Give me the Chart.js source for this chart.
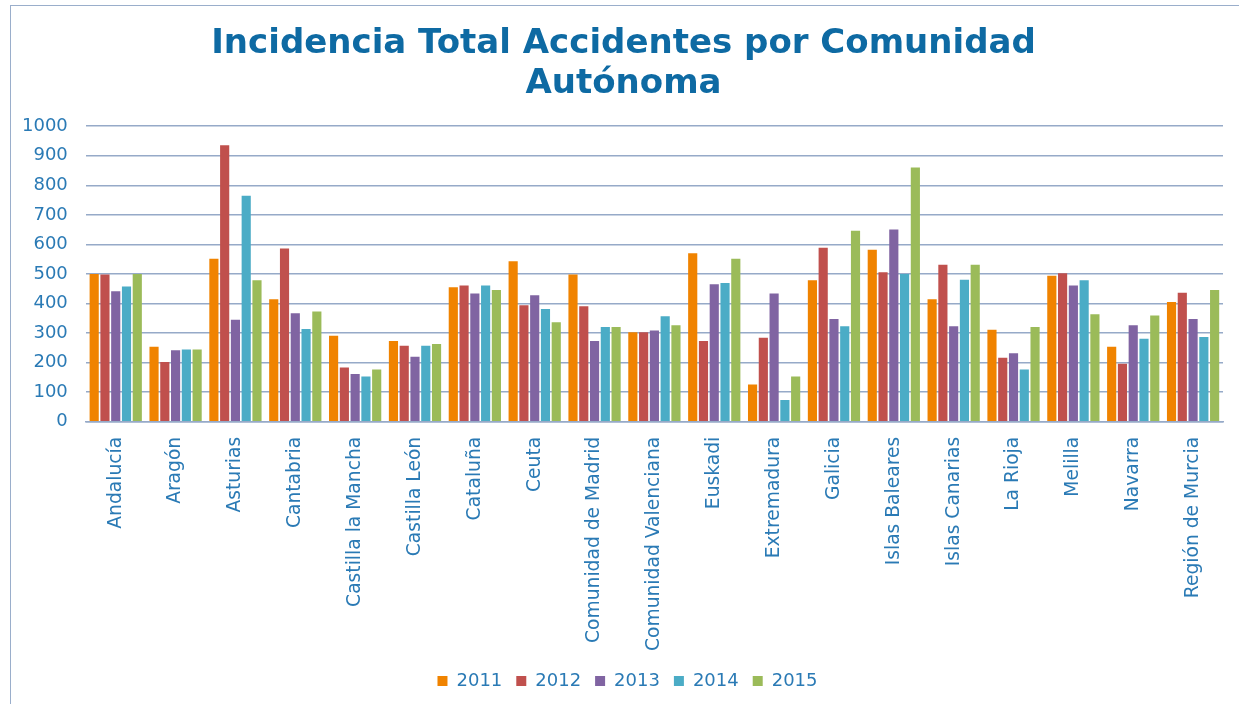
<!DOCTYPE html>
<html lang="es">
<head>
    <meta charset="UTF-8">
    <script src="https://cdn.jsdelivr.net/npm/chart.js"></script>
    <title>Incidencia Total Accidentes</title>
    <style>
        body {
            margin: 0;
            padding: 0;
            background-color: #ffffff;
            overflow: hidden;
        }
        #wrap {
            position: relative;
            width: 1239px;
            height: 704px;
        }
        /* marco del grafico, cortado por la derecha y abajo */
        #frame {
            position: absolute;
            left: 10px;
            top: 5px;
            width: 1240px;
            height: 710px;
            border: 1.5px solid #9aaecb;
            pointer-events: none;
        }
    </style>
</head>
<body>
    <div id="wrap">
        <canvas id="myChart" width="1239" height="704"></canvas>
        <div id="frame"></div>
    </div>
    <script>
        const comunidades = [
            'Andalucía', 'Aragón', 'Asturias', 'Cantabria', 'Castilla la Mancha',
            'Castilla León', 'Cataluña', 'Ceuta', 'Comunidad de Madrid',
            'Comunidad Valenciana', 'Euskadi', 'Extremadura', 'Galicia',
            'Islas Baleares', 'Islas Canarias', 'La Rioja', 'Melilla', 'Navarra',
            'Región de Murcia'
        ];

        const anios = ['2011', '2012', '2013', '2014', '2015'];

        const v2011 = [500, 254, 552, 415, 291, 273, 455, 543, 498, 303, 570, 126, 479, 582, 415, 311, 494, 254, 405];
        const v2012 = [498, 202, 936, 586, 184, 257, 461, 394, 391, 303, 273, 284, 589, 506, 531, 217, 503, 196, 437];
        const v2013 = [442, 242, 345, 367, 162, 220, 434, 428, 273, 309, 465, 434, 348, 651, 323, 232, 461, 327, 348];
        const v2014 = [458, 245, 765, 314, 153, 257, 461, 382, 321, 357, 470, 74, 323, 500, 481, 177, 479, 281, 287];
        const v2015 = [500, 245, 479, 373, 177, 263, 446, 337, 321, 327, 552, 153, 646, 860, 531, 321, 364, 360, 446];

        const yTicks = [0, 100, 200, 300, 400, 500, 600, 700, 800, 900, 1000];

        const colores = ['#f08300', '#c0504d', '#8064a2', '#4bacc6', '#9bbb59'];
        const series = [v2011, v2012, v2013, v2014, v2015];

        const azul = '#2a7ab5';
        const rejilla = '#96aac8';

        const data = {
            labels: comunidades,
            datasets: series.map((vals, i) => ({
                label: anios[i],
                data: vals,
                backgroundColor: colores[i],
                borderWidth: 0,
                barPercentage: 0.85,
                categoryPercentage: 0.9
            }))
        };

        // el titulo y la leyenda van algo desplazados a la derecha en el original
        const desplazar = {
            id: 'desplazar',
            afterLayout(chart) {
                chart.titleBlock.left += 10;
                chart.titleBlock.right += 10;
                chart.legend.left += 14;
                chart.legend.right += 14;
            }
        };

        const config = {
            type: 'bar',
            data: data,
            plugins: [desplazar],
            options: {
                responsive: false,
                animation: false,
                layout: {
                    padding: { left: 4, right: 16, top: 0, bottom: 4 }
                },
                plugins: {
                    title: {
                        display: true,
                        text: ['Incidencia Total Accidentes por Comunidad', 'Autónoma'],
                        color: '#0e6aa3',
                        font: { family: 'DejaVu Sans', size: 34, weight: 'bold', lineHeight: 1.18 },
                        padding: { top: 24, bottom: 22 }
                    },
                    legend: {
                        position: 'bottom',
                        labels: {
                            color: azul,
                            font: { family: 'DejaVu Sans', size: 18 },
                            boxWidth: 10,
                            boxHeight: 10,
                            padding: 14
                        }
                    },
                    tooltip: { enabled: false }
                },
                scales: {
                    x: {
                        grid: { display: false },
                        border: { display: true, color: rejilla, width: 1.5 },
                        ticks: {
                            color: azul,
                            font: { family: 'DejaVu Sans', size: 18.7 },
                            minRotation: 90,
                            maxRotation: 90,
                            autoSkip: false,
                            padding: 7
                        }
                    },
                    y: {
                        min: 0,
                        max: 1000,
                        afterBuildTicks: axis => {
                            axis.ticks = yTicks.map(v => ({ value: v }));
                        },
                        grid: { color: rejilla, lineWidth: 1.5, drawTicks: false },
                        border: { display: false },
                        ticks: {
                            color: azul,
                            font: { family: 'DejaVu Sans', size: 18 },
                            padding: 18,
                            callback: v => String(v)
                        }
                    }
                }
            }
        };

        const ctx = document.getElementById('myChart').getContext('2d');
        const myChart = new Chart(ctx, config);
    </script>
</body>
</html>
